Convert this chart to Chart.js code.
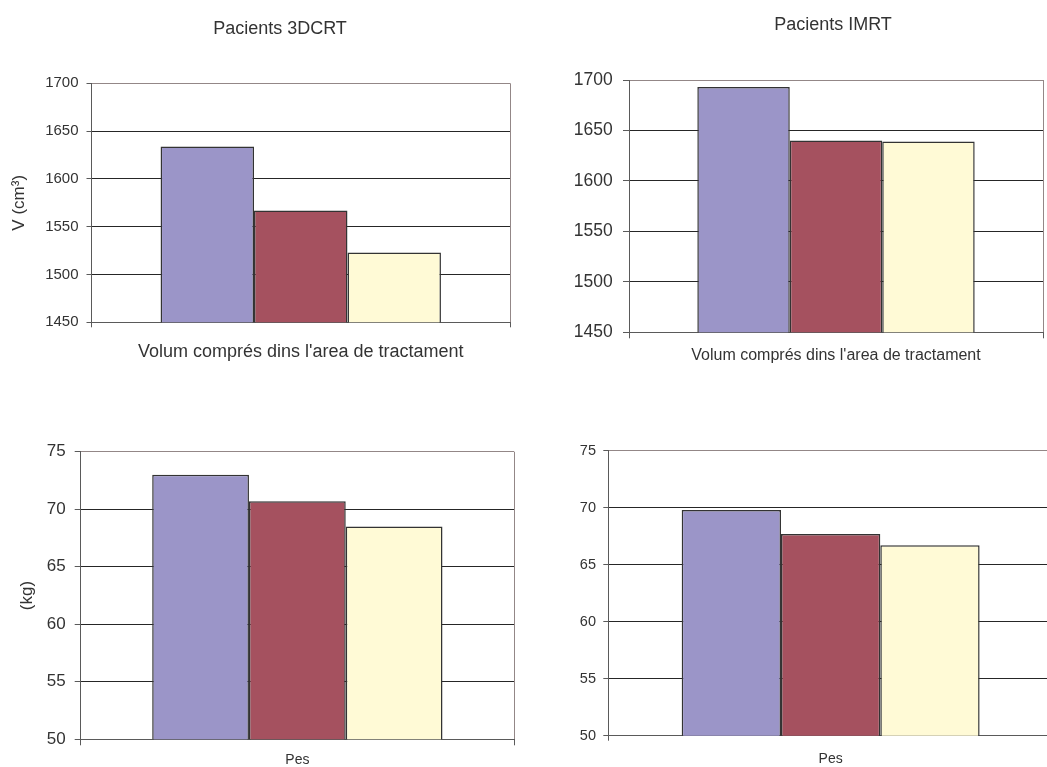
<!DOCTYPE html>
<html>
<head>
<meta charset="utf-8">
<script src="https://cdn.jsdelivr.net/npm/chart.js@4.4.1/dist/chart.umd.min.js"></script>
<style>
  html, body { margin: 0; padding: 0; background: #fff; overflow: hidden; width: 1047px; height: 767px; }
  canvas { position: absolute; }
</style>
</head>
<body>
<canvas id="vol3d" style="left:0px;top:0px" width="560" height="372"></canvas>
<canvas id="volImrt" style="left:560px;top:0px" width="546" height="372"></canvas>
<canvas id="pes3d" style="left:0px;top:420px" width="515" height="347"></canvas>
<canvas id="pesImrt" style="left:560px;top:420px" width="494" height="347"></canvas>
<script>
// Group means, three series per panel
const seriesNames = ['Sèrie 1', 'Sèrie 2', 'Sèrie 3'];
const volumeCategory = ["Volum comprés dins l'area de tractament"];
const weightCategory = ['Pes'];
const volume3DCRT = [1634, 1567, 1523];
const volumeIMRT = [1693, 1640, 1639];
const weight3DCRT = [73.0, 70.7, 68.5];
const weightIMRT = [69.8, 67.7, 66.7];
const volumeTicks = [1450, 1500, 1550, 1600, 1650, 1700];
const weightTicks = [50, 55, 60, 65, 70, 75];
const panelTitles = ['Pacients 3DCRT', 'Pacients IMRT'];
const volumeUnit = 'V (cm³)';
const weightUnit = '(kg)';

const FONT = "'Liberation Sans', Arial, Helvetica, sans-serif";
const fills = ['#9b95c8', '#a5515f', '#fffad6'];
const barEdge = '#333333';
const textColor = '#333333';
const axisColor = '#5a5a5a';
const gridColor = '#262626';
const plotEdge = '#938787';

function panel(id, o) {
  const ticks = o.ticks;
  const top = ticks[ticks.length - 1];
  const scales = {
    x: {
      grid: {
        offset: true,
        drawOnChartArea: true,
        color: c => (c.index === 0 ? 'rgba(0,0,0,0)' : plotEdge),
        tickColor: axisColor,
        tickLength: o.xTick
      },
      border: { color: axisColor, width: 1 },
      ticks: {
        color: textColor,
        font: { family: FONT, size: o.xFont },
        padding: o.xPad,
        maxRotation: 0,
        autoSkip: false
      },
      afterFit: s => { s.height = o.xHeight; }
    },
    y: {
      min: ticks[0],
      max: top,
      ticks: {
        stepSize: ticks[1] - ticks[0],
        callback: v => String(v),
        color: textColor,
        font: { family: FONT, size: o.yFont },
        padding: o.yPad
      },
      grid: {
        color: c => (c.tick && c.tick.value === top ? plotEdge : gridColor),
        tickColor: axisColor,
        tickLength: o.yTick
      },
      border: { color: axisColor, width: 1 },
      title: o.yTitle ? {
        display: true,
        text: o.yTitle,
        color: textColor,
        font: { family: FONT, size: 17 },
        padding: { top: o.yTitlePad, bottom: 0 }
      } : { display: false },
      afterFit: s => { s.width = o.yWidth; }
    }
  };
  if (o.rightGap) {
    // empty margin box on the right so the panel title sits centred over the whole panel
    scales.gap = {
      type: 'linear',
      position: 'right',
      display: true,
      grid: { display: false },
      border: { display: false },
      ticks: { display: false },
      afterFit: s => { s.width = o.rightGap; }
    };
  }
  new Chart(document.getElementById(id), {
    type: 'bar',
    data: {
      labels: o.labels,
      datasets: o.values.map((v, i) => ({
        label: seriesNames[i],
        data: [v],
        yAxisID: 'y',
        backgroundColor: fills[i],
        borderColor: barEdge,
        borderWidth: 1.5,
        borderSkipped: false,
        categoryPercentage: 0.67,
        barPercentage: 1
      }))
    },
    options: {
      responsive: false,
      animation: false,
      devicePixelRatio: 1,
      layout: { padding: { left: 0, right: o.rightGap ? 0 : 1, top: o.padTop, bottom: 0 } },
      plugins: {
        legend: { display: false },
        tooltip: { enabled: false },
        title: o.title ? {
          display: true,
          text: o.title,
          color: textColor,
          font: { family: FONT, size: 18, weight: 'normal' },
          padding: { top: o.titleTop, bottom: o.titleBottom }
        } : { display: false }
      },
      scales
    }
  });
}

panel('vol3d', {
  labels: volumeCategory, values: volume3DCRT, ticks: volumeTicks,
  title: panelTitles[0], titleTop: 18.7, titleBottom: 43,
  padTop: 0, yWidth: 91.5, rightGap: 50, yFont: 15, yTick: 5, yPad: 8,
  yTitle: volumeUnit, yTitlePad: 8.8,
  xHeight: 49.7, xFont: 18, xTick: 5, xPad: 14
});

panel('volImrt', {
  labels: volumeCategory, values: volumeIMRT, ticks: volumeTicks,
  title: panelTitles[1], titleTop: 13.9, titleBottom: 44.5,
  padTop: 0, yWidth: 69, rightGap: 63, yFont: 17.5, yTick: 6, yPad: 10.3,
  yTitle: null,
  xHeight: 39.7, xFont: 16, xTick: 6, xPad: 8
});

panel('pes3d', {
  labels: weightCategory, values: weight3DCRT, ticks: weightTicks,
  title: null,
  padTop: 31.7, yWidth: 80.7, yFont: 17, yTick: 6, yPad: 9,
  yTitle: weightUnit, yTitlePad: 16.8,
  xHeight: 27.7, xFont: 14, xTick: 6, xPad: 6
});

panel('pesImrt', {
  labels: weightCategory, values: weightIMRT, ticks: weightTicks,
  title: null,
  padTop: 30.7, yWidth: 48.3, yFont: 14.5, yTick: 5, yPad: 7.3,
  yTitle: null,
  xHeight: 31.3, xFont: 14, xTick: 5, xPad: 10
});
</script>
</body>
</html>
